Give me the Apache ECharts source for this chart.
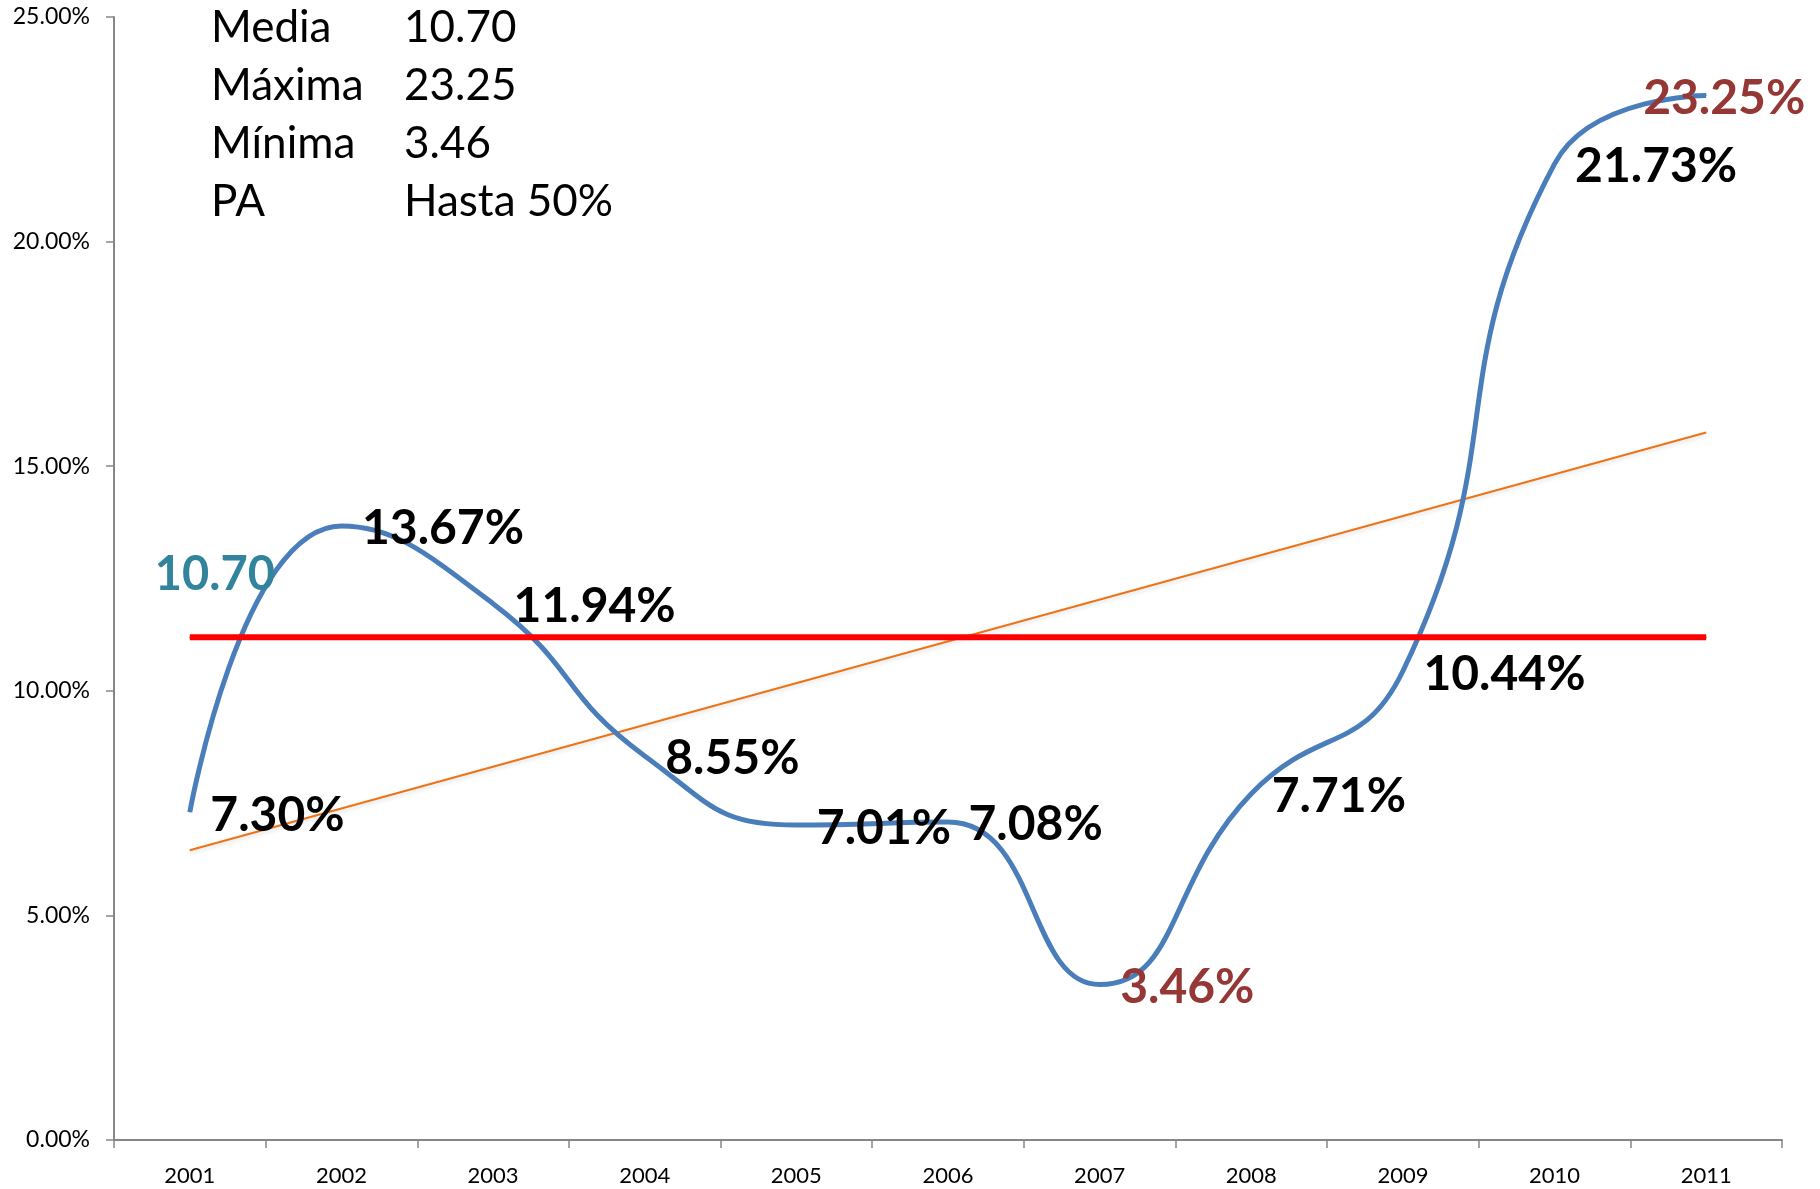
<!DOCTYPE html>
<html>
<head>
<meta charset="utf-8">
<script src="https://cdn.jsdelivr.net/npm/echarts@6/dist/echarts.min.js"></script>
<style>
html, body { margin: 0; padding: 0; background: #fff; }
#chart { width: 1820px; height: 1189px; }
</style>
</head>
<body>
<div id="chart"></div>
<script>
// datos
var years = ['2001', '2002', '2003', '2004', '2005', '2006', '2007', '2008', '2009', '2010', '2011'];
var rates = [7.30, 13.67, 11.94, 8.55, 7.01, 7.08, 3.46, 7.71, 10.44, 21.73, 23.25];
var trendEnds = [6.45, 15.75];   // tendencia lineal: primer y ultimo año
var mediaLevel = 11.19;          // altura de la linea roja
var statNames = ['Media', 'Máxima', 'Mínima', 'PA'];
var statValues = ['10.70', '23.25', '3.46', 'Hasta 50%'];
var highlight = { 6: 'min', 10: 'max' };

var font = 'Lato, "Open Sans", sans-serif';

var rateData = rates.map(function (v, i) {
	var item = { value: v };
	if (highlight[i] == 'min') {
		item.label = { color: '#953735' };
	}
	if (highlight[i] == 'max') {
		item.label = { color: '#953735', position: 'inside', offset: [18, 3] };
	}
	return item;
});

var trendData = years.map(function (y, i) {
	if (i == 0) return trendEnds[0];
	if (i == years.length - 1) return trendEnds[1];
	return null;
});

var mediaData = years.map(function (y, i) {
	if (i == 0) {
		return {
			value: mediaLevel,
			label: {
				show: true, position: 'inside', offset: [25, -63],
				formatter: statValues[0], fontFamily: font, fontWeight: 'bold',
				fontSize: 47, color: '#31849B'
			}
		};
	}
	return mediaLevel;
});

var graphics = [];
statNames.forEach(function (name, i) {
	graphics.push({ type: 'text', left: 211, top: 6 + i * 58,
		style: { text: name, font: '44px ' + font, fill: '#000' } });
	graphics.push({ type: 'text', left: 404, top: 6 + i * 58,
		style: { text: statValues[i], font: '44px ' + font, fill: '#000' } });
});

var myChart = echarts.init(document.getElementById('chart'));
myChart.setOption({
	animation: false,
	backgroundColor: '#fff',
	grid: { left: 114, right: 38, top: 17, bottom: 49 },
	xAxis: {
		type: 'category',
		data: years,
		boundaryGap: true,
		axisLine: { lineStyle: { color: '#868686', width: 2 } },
		axisTick: { show: true, length: 8, lineStyle: { color: '#868686', width: 1.5 } },
		axisLabel: { color: '#000', fontFamily: font, fontSize: 22, margin: 25 }
	},
	yAxis: {
		type: 'value',
		min: 0, max: 25, interval: 5,
		splitLine: { show: false },
		axisLine: { show: true, lineStyle: { color: '#868686', width: 2 } },
		axisTick: { show: true, length: 8, lineStyle: { color: '#868686', width: 1.5 } },
		axisLabel: {
			color: '#000', fontFamily: font, fontSize: 23, margin: 24,
			formatter: function (v) { return v.toFixed(2) + '%'; }
		}
	},
	graphic: graphics,
	series: [
		{
			type: 'line',
			data: trendData,
			connectNulls: true,
			symbol: 'none',
			lineStyle: { color: '#EE7316', width: 2, shadowColor: 'rgba(0,0,0,0.15)', shadowBlur: 4, shadowOffsetY: 2 },
			z: 1
		},
		{
			type: 'line',
			data: rateData,
			smooth: 0.5,
			symbol: 'circle',
			symbolSize: 1,
			itemStyle: { color: '#4A7EBB' },
			lineStyle: { color: '#4A7EBB', width: 5 },
			label: {
				show: true, position: 'right', distance: 20, offset: [0, 3],
				fontFamily: font, fontWeight: 'bold', fontSize: 48, color: '#000',
				formatter: function (p) { return p.value.toFixed(2) + '%'; }
			},
			z: 2
		},
		{
			type: 'line',
			data: mediaData,
			symbol: 'circle',
			symbolSize: 1,
			itemStyle: { color: '#FF0000' },
			lineStyle: { color: '#FF0000', width: 6 },
			z: 3
		}
	]
});
</script>
</body>
</html>
